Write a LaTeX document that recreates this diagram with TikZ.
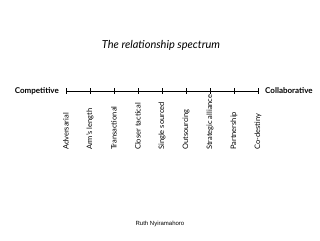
\documentclass[tikz,border=0pt]{standalone}
\usepackage{fontspec}
\setmainfont{Lato}
\setsansfont{Liberation Sans}
\usetikzlibrary{positioning}

\begin{document}
\begin{tikzpicture}[x=1pt,y={(0pt,-1pt)},
  stage/.style={rotate=90,anchor=west,inner sep=0pt,font=\fontsize{7.5}{9}\selectfont},
  pole/.style={inner sep=0pt,font=\bfseries\fontsize{8}{10}\selectfont},
  tick/.style={line width=.6pt}]
\useasboundingbox (0,0) rectangle (320,240);
\node[font=\itshape\fontsize{11}{13}\selectfont] (title) at (161,45){The relationship spectrum};
% the scale
\coordinate (t1) at (66,91);
\coordinate (t2) at (90,91);
\coordinate (t3) at (114,91);
\coordinate (t4) at (138,91);
\coordinate (t5) at (162,91);
\coordinate (t6) at (186,91);
\coordinate (t7) at (210,91);
\coordinate (t8) at (234,91);
\coordinate (t9) at (258,91);
\draw[tick] (t1)--(t9);
\foreach \t in {t1,t2,t3,t4,t5,t6,t7,t8,t9}
  \draw[tick] ([yshift=-3pt]\t)--([yshift=3pt]\t);
\node[pole,left=7pt of t1] (comp){Competitive};
\node[pole,right=7pt of t9] (coll){Collaborative};
% the stages
\node[stage] (adv) at (66,150){Adversarial};
\node[stage] (arm) at (90,150){Arm's length};
\node[stage] (trans) at (114,150){Transactional};
\node[stage] (closer) at (138,150){Closer tactical};
\node[stage] (single) at (162,150){Single sourced};
\node[stage] (out) at (186,150){Outsourcing};
\node[stage] (alliance) at (210,150){Strategic alliance};
\node[stage] (partner) at (234,150){Partnership};
\node[stage] (codest) at (258,150){Co-destiny};
\node[font=\sffamily\fontsize{6}{7}\selectfont] (author) at (160,224){Ruth Nyiramahoro};
\end{tikzpicture}
\end{document}
